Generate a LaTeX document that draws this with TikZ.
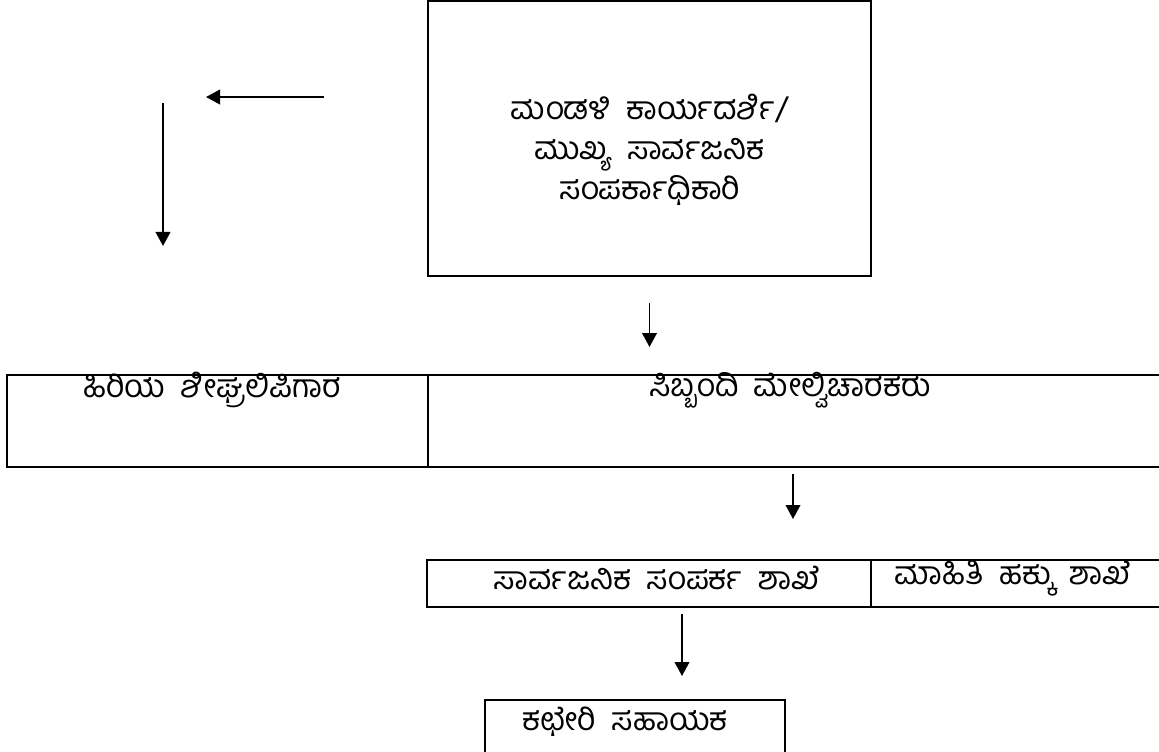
\documentclass[tikz,border=0pt]{standalone}
\usepackage{fontspec}
\setmainfont[Script=Kannada, WordSpace=2]{Hind Mysuru}
\usepackage{tikz}
\usetikzlibrary{positioning}
\usetikzlibrary{arrows.meta}

\tikzset{
  cell/.style={draw, line width=1.5pt, inner sep=0pt},
  label/.style={inner sep=0pt, align=center, font=\fontsize{24}{30}\selectfont},
  arrow/.style={line width=1.3pt, -{Triangle[length=10.5pt,width=11pt]}}
}

\begin{document}
\begin{tikzpicture}[x=0.75pt, y=-0.75pt]
  \clip (0,0) rectangle (1159,752);

  % Top box
  \node[cell, minimum width=332.25pt, minimum height=206.25pt] (board) at (649.5,138.5) {};
  \node[label] (boardtext) at (649.5,150) {ಮಂಡಳಿ ಕಾರ್ಯದರ್ಶಿ/\\ಮುಖ್ಯ ಸಾರ್ವಜನಿಕ\\ಸಂಪರ್ಕಾಧಿಕಾರಿ};

  % Loose arrows
  \coordinate (lefts) at (324,97);
  \coordinate (lefte) at (206,97);
  \coordinate (downs) at (163,103);
  \coordinate (downe) at (163,246);
  \draw[arrow] (lefts) -- (lefte);
  \draw[arrow] (downs) -- (downe);

  % Middle row
  \node[cell, minimum width=315.75pt, minimum height=69pt] (steno) at (217.5,421) {};
  \node[cell, minimum width=560.25pt, minimum height=69pt] (staff) at (801.5,421) {};
  \node[label] (stenotext) at (212,390) {ಹಿರಿಯ ಶೀಘ್ರಲಿಪಿಗಾರ};
  \node[label] (stafftext) at (790,390) {ಸಿಬ್ಬಂದಿ ಮೇಲ್ವಿಚಾರಕರು};

  % Lower row
  \node[cell, minimum width=333pt, minimum height=35.25pt] (pr) at (649,583.5) {};
  \node[cell, minimum width=228pt, minimum height=35.25pt] (rti) at (1023,583.5) {};
  \node[label] (prtext) at (657,578) {ಸಾರ್ವಜನಿಕ ಸಂಪರ್ಕ ಶಾಖೆ};
  \node[label] (rtitext) at (1013,578) {ಮಾಹಿತಿ ಹಕ್ಕು ಶಾಖೆ};

  % Bottom box
  \node[cell, minimum width=225pt, minimum height=75pt] (clerk) at (635,750) {};
  \node[label] (clerktext) at (625,722) {ಕಛೇರಿ ಸಹಾಯಕ};

  % Links
  \coordinate (col2) at (793,0);
  \coordinate (col3) at (682,0);
  \draw[arrow, shorten <=19.5pt, shorten >=20.25pt] (board.south) -- (board.south |- staff.north);
  \draw[arrow, shorten <=4.5pt, shorten >=30pt] (staff.south -| col2) -- (pr.north -| col2);
  \draw[arrow, shorten <=4.5pt, shorten >=17.25pt] (pr.south -| col3) -- (clerk.north -| col3);
\end{tikzpicture}
\end{document}
